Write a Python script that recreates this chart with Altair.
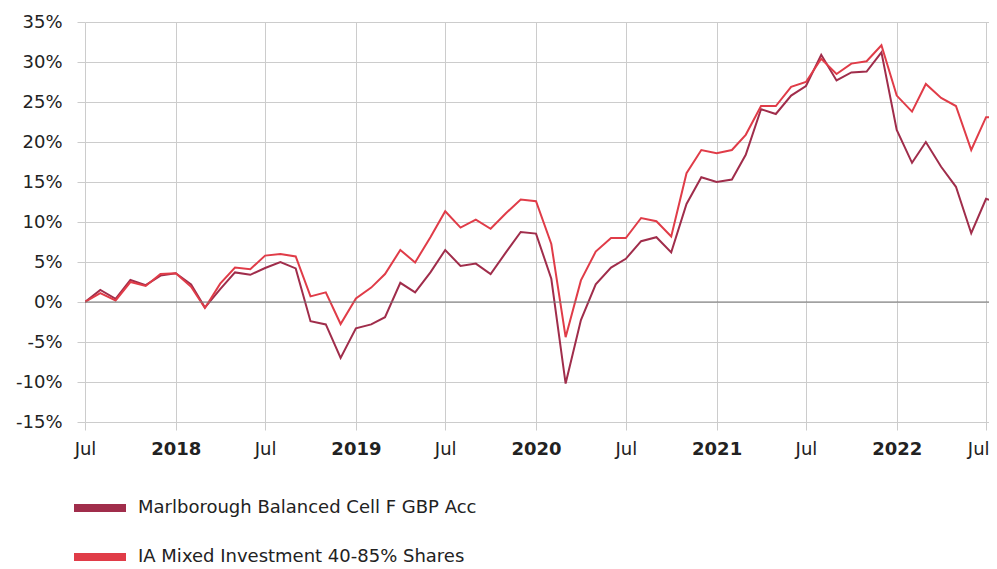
import altair as alt
import pandas as pd

months = [d.strftime("%Y-%m-%dT00:00:00") for d in pd.date_range("2017-07-01", periods=62, freq="MS")]

marlborough = [
    0.0, 1.5, 0.4, 2.75, 2.1, 3.3, 3.6, 2.2, -0.7, 1.6, 3.7, 3.4,
    4.25, 5.0, 4.2, -2.4, -2.8, -7.0, -3.3, -2.8, -1.9, 2.4, 1.2, 3.7,
    6.5, 4.5, 4.8, 3.5, 6.2, 8.75, 8.55, 2.9, -10.2, -2.25, 2.2, 4.3,
    5.4, 7.6, 8.1, 6.2, 12.25, 15.6, 15.0, 15.3, 18.4, 24.1, 23.5, 25.8,
    27.0, 30.9, 27.7, 28.7, 28.8, 31.2, 21.5, 17.4, 20.0, 16.9, 14.4, 8.6,
    12.9, 12.3,
]
ia_mixed = [
    0.0, 1.1, 0.2, 2.5, 2.0, 3.5, 3.6, 1.9, -0.75, 2.3, 4.3, 4.1,
    5.8, 6.0, 5.7, 0.7, 1.2, -2.75, 0.45, 1.8, 3.5, 6.5, 4.95, 8.1,
    11.35, 9.3, 10.3, 9.15, 11.1, 12.8, 12.6, 7.25, -4.4, 2.7, 6.3, 8.0,
    8.0, 10.5, 10.1, 8.2, 16.1, 19.0, 18.6, 19.0, 20.9, 24.5, 24.5, 26.9,
    27.5, 30.4, 28.5, 29.8, 30.1, 32.1, 25.8, 23.8, 27.25, 25.5, 24.5, 19.0,
    23.1, 23.0,
]
series_names = ["Marlborough Balanced Cell F GBP Acc", "IA Mixed Investment 40-85% Shares"]
series_colors = ["#a02d4b", "#e03c48"]
y_ticks = [-15, -10, -5, 0, 5, 10, 15, 20, 25, 30, 35]
x_tick_months = [(2017, 7), (2018, 1), (2018, 7), (2019, 1), (2019, 7), (2020, 1),
                 (2020, 7), (2021, 1), (2021, 7), (2022, 1), (2022, 7)]

rows = []
for m, a, b in zip(months, marlborough, ia_mixed):
    rows.append({"date": m, "series": series_names[0], "value": a, "ord": 0})
    rows.append({"date": m, "series": series_names[1], "value": b, "ord": 1})
df = pd.DataFrame(rows)

FONT = "DejaVu Sans"
GRID = "#cccccc"

last_tick = "year(datum.value) == 2022 && month(datum.value) == 6"
x_axis = alt.Axis(
    values=[alt.DateTime(year=y, month=mo, date=1) for y, mo in x_tick_months],
    labelExpr="month(datum.value) == 0 ? timeFormat(datum.value, '%Y') : timeFormat(datum.value, '%b')",
    labelFontWeight={"condition": {"test": "month(datum.value) == 0", "value": "bold"}, "value": "normal"},
    labelAlign={"condition": {"test": last_tick, "value": "right"}, "value": "center"},
    labelOffset={"condition": {"test": last_tick, "value": 3}, "value": 0},
    title=None, domain=False, ticks=True, tickSize=8, tickColor=GRID,
    grid=True, gridColor=GRID, labelFontSize=18, labelFont=FONT, labelColor="#222222",
    labelPadding=10, labelFlush=False, labelOverlap=False, labelBound=False,
)
y_axis = alt.Axis(
    values=y_ticks, labelExpr="datum.value + '%'", title=None, domain=False,
    ticks=True, tickSize=8, tickColor=GRID, grid=True, gridColor=GRID,
    labelFontSize=18, labelFont=FONT, labelColor="#222222", labelPadding=15,
    labelOverlap=False, labelFlush=False,
)
y_scale = alt.Scale(domain=[-15, 35], nice=False, zero=False)

x_enc = alt.X("date:T", axis=x_axis,
              scale=alt.Scale(domain=[alt.DateTime(year=2017, month=7, date=1),
                                      alt.DateTime(year=2022, month=7, date=7)]))

zero = alt.Chart(pd.DataFrame({"value": [0]})).mark_rule(color="#777777", strokeWidth=1).encode(
    y=alt.Y("value:Q", axis=y_axis, scale=y_scale)
)

lines = alt.Chart(df).mark_line(strokeWidth=2, clip=True).encode(
    x=x_enc,
    y=alt.Y("value:Q", axis=y_axis, scale=y_scale),
    order="ord:O",
    color=alt.Color(
        "series:N",
        scale=alt.Scale(domain=series_names, range=series_colors),
        legend=alt.Legend(
            orient="none", legendX=-15, legendY=456, direction="vertical", title=None,
            symbolType="stroke", symbolSize=2704, symbolStrokeWidth=8,
            labelFontSize=18, labelFont=FONT, labelColor="#222222", labelLimit=0,
            rowPadding=3, labelOffset=8, padding=0,
        ),
    ),
)

chart = alt.layer(lines, zero).properties(
    width=904, height=400,
    autosize=alt.AutoSizeParams(type="none"),
    padding={"left": 77, "top": 14, "right": 0, "bottom": 147},
).configure_view(stroke=None)

chart.save("out.html", embed_options={"renderer": "svg", "actions": False})
